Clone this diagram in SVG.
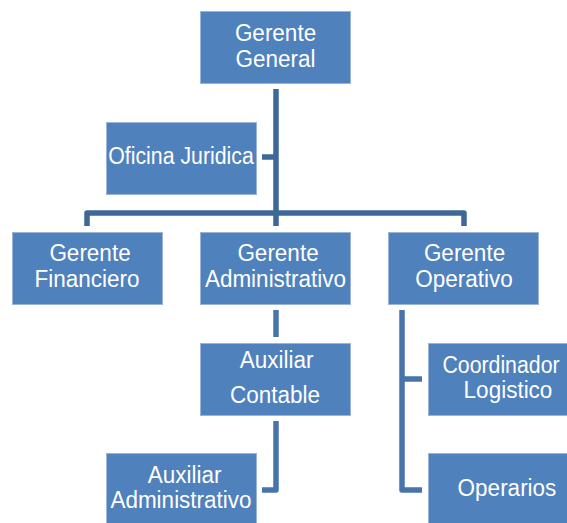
<svg xmlns="http://www.w3.org/2000/svg" width="567" height="523" viewBox="0 0 567 523">
<style>
.box{fill:#4f81bd;stroke:#9bb5da;stroke-width:1}
.t{font-family:"Liberation Sans",Arial,sans-serif;font-size:22.5px;fill:#ffffff;text-anchor:middle}
.s{font-size:21.3px}
.c{fill:none;stroke:#3d6898;stroke-width:5.5;stroke-linejoin:round}
.c2{fill:none;stroke:#4674ab;stroke-width:5.5;stroke-linejoin:round}
</style>
<rect width="567" height="523" fill="#ffffff"/>
<g id="connectors">
<path class="c" d="M276 89 V226"/>
<path class="c" d="M262 157 H276"/>
<path class="c" d="M87 226 V213 H464 V226"/>
<path class="c2" d="M276 310 V337"/>
<path class="c2" d="M276 421 V490 H262"/>
<path class="c2" d="M402 310 V490 H422"/>
<path class="c2" d="M402 379 H422"/>
</g>
<g id="gerente-general">
<rect class="box" x="200.5" y="11.5" width="150" height="72"/>
<text class="t" transform="translate(275.5 41) scale(1 1.1)">Gerente</text>
<text class="t" transform="translate(275.5 67) scale(1 1.1)">General</text>
</g>
<g id="oficina-juridica">
<rect class="box" x="106.5" y="122.5" width="150" height="72"/>
<text class="t s" transform="translate(181 164) scale(1 1.15)">Oficina Juridica</text>
</g>
<g id="gerente-financiero">
<rect class="box" x="12.5" y="232.5" width="150" height="72"/>
<text class="t" transform="translate(90 261) scale(1 1.1)">Gerente</text>
<text class="t" transform="translate(87 287) scale(1 1.1)">Financiero</text>
</g>
<g id="gerente-administrativo">
<rect class="box" x="200.5" y="232.5" width="150" height="72"/>
<text class="t" transform="translate(278 261) scale(1 1.1)">Gerente</text>
<text class="t" transform="translate(275.5 287) scale(1 1.1)">Administrativo</text>
</g>
<g id="gerente-operativo">
<rect class="box" x="388.5" y="232.5" width="150" height="72"/>
<text class="t" transform="translate(464.5 261) scale(1 1.1)">Gerente</text>
<text class="t" transform="translate(464 287) scale(1 1.1)">Operativo</text>
</g>
<g id="auxiliar-contable">
<rect class="box" x="200.5" y="343.5" width="150" height="72"/>
<text class="t" transform="translate(276.5 368) scale(1 1.1)">Auxiliar</text>
<text class="t" transform="translate(275 403) scale(1 1.1)">Contable</text>
</g>
<g id="coordinador-logistico">
<rect class="box" x="428.5" y="343.5" width="150" height="72"/>
<text class="t s" transform="translate(501 373) scale(1 1.15)">Coordinador</text>
<text class="t" transform="translate(508 398) scale(1 1.1)">Logistico</text>
</g>
<g id="auxiliar-administrativo">
<rect class="box" x="106.5" y="453.5" width="150" height="72"/>
<text class="t" transform="translate(184.5 483) scale(1 1.1)">Auxiliar</text>
<text class="t" transform="translate(181 508) scale(1 1.1)">Administrativo</text>
</g>
<g id="operarios">
<rect class="box" x="428.5" y="453.5" width="150" height="72"/>
<text class="t" transform="translate(507 496) scale(1 1.1)">Operarios</text>
</g>
</svg>
